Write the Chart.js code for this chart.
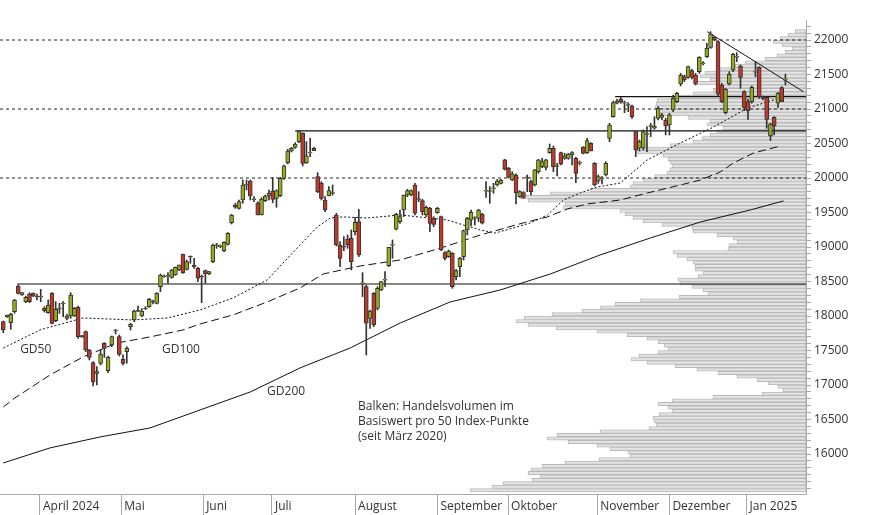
<!DOCTYPE html>
<html><head><meta charset="utf-8">
<script src="https://cdn.jsdelivr.net/npm/chart.js@4/dist/chart.umd.min.js"></script>
<style>html,body{margin:0;padding:0;background:#fff}canvas{display:block}</style>
</head><body>
<canvas id="c" width="874" height="515"></canvas>
<script>
const openV=[17918,18015,17904,18063,18435,18305,18208,18319,18329,18285,
18280,18112,18049,18329,17933,18107,18180,17967,18001,18001,
18126,17716,17774,17508,17324,17170,17315,17605,17209,17580,
17789,17701,17373,17484,17846,17943,18078,18001,18112,18136,
18213,18184,18426,18571,18580,18561,18595,18667,18894,18677,
18865,18740,18691,18575,18658,18609,
18788,19025,19010,18948,19039,19353,19609,19561,19682,19899,
19957,19691,19634,19464,19672,19740,19812,19706,19745,19996,
20223,20392,20445,20527,20648,20223,20368,20430,20020,19923,
19682,19740,19778,19464,19030,19010,19117,19126,19223,19368,
18474,18426,17967,18329,18112,18377,18523,18730,19030,19257,
19368,19537,
19754,19754,19899,19696,19672,19464,19561,19416,19498,19440,
18919,18861,18909,18571,18716,18861,19247,19392,19426,19416,
19474,19817,19812,19851,19899,19923,20262,20141,19972,20044,
19730,19788,20010,19947,19899,20092,20165,20155,20368,20430,
20175,20368,20285,20285,20334,20285,20223,20445,20368,20503,
20213,19957,19996,20044,20575,
20889,21083,21145,21092,21058,21044,20672,20431,20431,20638,
20754,20721,20865,20880,20841,20769,20986,21107,21363,21469,
21459,21556,21493,21541,21662,21759,21894,22039,21976,21348,
20947,21363,21566,21759,21624,21251,21107,21107,21541,21604,
21179,21169,20609,20880,21083,21309,21420];
const highV=[17928,18015,18039,18242,18450,18345,18290,18339,18335,18319,
18387,18136,18233,18339,18208,18184,18208,18025,18339,18126,
18146,17720,17783,17518,17339,17267,17508,17614,17421,17711,
17807,17725,17436,17556,17894,18088,18146,18107,18136,18257,
18233,18339,18609,18595,18629,18677,18711,18740,18899,18812,
18870,18836,18706,18595,18667,18648,
19044,19054,19030,19078,19209,19475,19634,19682,19972,19972,
19972,19730,19658,19716,19754,19827,20010,19827,20010,20189,
20416,20445,20513,20686,20657,20527,20575,20445,20078,19947,
19730,19875,19899,19489,19078,19151,19175,19247,19431,19547,
18629,18450,18088,18339,18426,18498,18643,18996,19102,19489,
19537,19754,
19837,19827,19923,19802,19691,19595,19576,19440,19576,19450,
18933,18957,18919,18677,18851,19247,19431,19537,19440,19547,
19489,19947,19875,19923,19981,19981,20271,20155,20092,20059,
19817,19803,20044,19972,20126,20271,20285,20271,20493,20464,
20213,20377,20358,20358,20382,20300,20247,20455,20575,20513,
20223,20044,20020,20237,20793,
21116,21140,21169,21116,21092,21058,20672,20551,20696,20744,
20793,20889,21034,20938,20865,20938,21203,21242,21517,21493,
21624,21575,21517,21759,21686,21952,22121,22049,21991,21372,
21300,21541,21807,21817,21638,21266,21140,21334,21686,21614,
21189,21179,20793,20890,21237,21324,21507];
const lowV=[17759,17981,17808,18039,18319,18300,18194,18194,18280,18233,
18208,18058,18039,17885,17918,18039,17991,17943,17967,17991,
17677,17692,17484,17363,16986,17001,17291,17401,17180,17556,
17740,17421,17291,17315,17798,17918,18063,17991,18097,18126,
18175,18175,18353,18561,18474,18547,18590,18658,18619,18667,
18764,18691,18498,18194,18474,18600,
18774,18981,18990,18933,19030,19334,19561,19547,19634,19827,
19682,19658,19464,19464,19658,19682,19643,19576,19730,19981,
20204,20377,20430,20513,20175,20213,20310,20397,19788,19682,
19513,19740,19754,19015,18716,18948,18981,18668,19175,18861,
18281,17436,17822,17846,18088,18368,18426,18716,18837,19247,
19343,19441,
19730,19740,19464,19658,19464,19440,19223,19295,19489,18948,
18812,18851,18402,18523,18571,18812,19175,19305,19320,19368,
19334,19720,19634,19778,19885,19914,20117,20001,19962,19624,
19720,19706,19802,19754,19885,20068,20150,20117,20358,20092,
20030,20189,20271,20271,20189,19933,20189,20348,20358,20392,
19885,19923,19914,20030,20527,
20880,21073,21083,20947,20962,20865,20310,20392,20406,20383,
20600,20706,20841,20841,20624,20624,20962,21092,21334,21397,
21445,21435,21348,21517,21638,21749,21879,21991,21179,21092,
20928,21348,21541,21686,21300,20976,20851,21083,21469,21155,
21131,20720,20541,20624,21024,21107,21348];
const closeV=[17798,17991,18025,18233,18329,18339,18271,18208,18290,18281,
18285,18078,18160,17894,18097,18112,18184,18001,18305,18112,
17701,17692,17508,17401,17049,17194,17450,17532,17402,17701,
17793,17445,17315,17532,17880,18073,18073,18073,18107,18242,
18208,18329,18595,18575,18585,18667,18706,18740,18629,18788,
18860,18716,18547,18571,18609,18643,
19030,19030,19015,19068,19199,19464,19576,19658,19899,19904,
19740,19696,19464,19696,19740,19778,19691,19817,19996,20175,
20392,20430,20493,20672,20213,20320,20368,20397,19803,19706,
19537,19817,19788,19030,18836,19001,19030,18788,19358,18885,
18474,17895,18073,17870,18402,18498,18532,18996,19039,19474,
19440,19754,
19817,19817,19489,19696,19513,19576,19343,19329,19561,18957,
18836,18943,18426,18658,18836,19238,19416,19503,19426,19537,
19344,19817,19812,19851,19957,19972,20126,20010,20059,19788,
19803,19720,20005,19802,20117,20262,20237,20262,20430,20165,
20175,20199,20320,20348,20368,20068,20223,20358,20541,20392,
19899,20020,19996,20213,20769,
21092,21116,21107,21092,21058,20889,20407,20527,20672,20638,
20754,20754,21010,20913,20754,20914,21155,21227,21493,21421,
21614,21459,21372,21749,21662,21879,22087,22000,21218,21107,
21285,21503,21793,21759,21459,21024,20976,21314,21541,21179,
21155,20851,20783,20754,21227,21107,21430];

const gd50Idx=[0,9.8,21.3,34.7,43.8,52.6,61.4,70.5,79.3,83.9,87.4,90.8,97.2,106.1,118.6,122.9,127.5,131.5,136.3,140.8,145.4,149.7,154.2,158.7,164.9,172.1,180.9,189.8,198.9,208.5];
const gd50Val=[17537,17798,17972,17943,17972,18088,18262,18523,19030,19291,19421,19436,19421,19465,19392,19320,19247,19204,19276,19349,19465,19682,19783,19870,19928,20262,20508,20740,21015,21175];
const gd100Idx=[0,3.1,12.5,21.3,30.4,39.2,48.0,52.6,61.4,70.5,79.3,85.5,95.4,106.1,118.6,127.5,138.9,145.4,150.7,156.1,164.9,172.1,180.9,186.3,191.6,195.1,200.5,207.7];
const gd100Val=[16682,16813,17146,17407,17610,17697,17798,17885,18016,18204,18407,18610,18726,18813,19015,19175,19349,19436,19552,19624,19682,19783,19899,19972,20088,20218,20363,20464];
const gd200Idx=[0,12.5,25.9,39.2,52.6,66.0,79.3,92.7,106.1,119.4,132.8,146.2,159.5,172.9,186.3,199.6,208.5];
const gd200Val=[15871,16089,16248,16378,16639,16900,17248,17537,17900,18204,18378,18610,18885,19131,19363,19537,19668];

const profileTop=22125, profileStep=50;
const profileVol=[11,18,26,33,24,14,21,29,41,61,71,89,101,106,96,113,86,93,113,131,149,150,151,144,149,118,96,99,83,89,96,104,113,136,163,169,143,138,136,134,136,139,151,163,173,176,216,256,286,278,241,243,186,181,173,163,144,114,113,89,73,69,77,78,133,129,119,113,111,
111,103,108,128,126,114,103,98,127,166,191,206,224,254,282,290,278,250,209,179,159,148,142,138,148,167,175,159,131,109,88,69,49,38,28,23,44,93,134,148,138,134,147,153,152,150,157,206,249,259,238,209,196,178,176,207,241,264,275,278,266,274,303,314,336];

const monthStarts=[9.8,31.5,53.4,71.8,94.0,116.0,134.9,158.7,178.0,198.6];
const monthLabels=['April 2024','Mai','Juni','Juli','August','September','Oktober','November','Dezember','Jan 2025'];
const yLabelStep=500, yLabelMin=16000;

const solidLevels=[18464,20682,21179];
const solidStarts=[3.7,78,163.5];
const dashedLevels=[20000,21000,22000];
const trendIdx=[188.1,213.8], trendVal=[22121,21251];
const xMin=-0.88, xMax=214.5;

const N=openV.length;
const wicks=[],bodies=[],bodyCol=[];
for(let i=0;i<N;i++){
  wicks.push({x:i,y:[lowV[i],highV[i]]});
  let lo=Math.min(openV[i],closeV[i]),hi=Math.max(openV[i],closeV[i]);
  if(hi-lo<12){const m=(hi+lo)/2;lo=m-6;hi=m+6;}
  bodies.push({x:i,y:[lo,hi]});
  bodyCol.push(closeV[i]>=openV[i]?'#95ab1f':'#c0392b');
}
const prof=profileVol.map((v,k)=>({y:profileTop-k*profileStep,x:[0,v]}));
const line=(xs,ys)=>xs.map((x,k)=>({x:x,y:ys[k]}));

const datasets=[
 {type:'bar',data:prof,indexAxis:'y',xAxisID:'xv',yAxisID:'y',barThickness:3.4,grouped:false,
  backgroundColor:'#e3e3e3',borderColor:'#b9b9b9',borderWidth:1,borderSkipped:false,order:20},
 {type:'line',data:line(gd200Idx,gd200Val),xAxisID:'x',yAxisID:'y',borderColor:'#111',borderWidth:1,pointRadius:0,order:15},
 {type:'line',data:line(gd100Idx,gd100Val),xAxisID:'x',yAxisID:'y',borderColor:'#111',borderWidth:1,borderDash:[8,4],pointRadius:0,order:15},
 {type:'line',data:line(gd50Idx,gd50Val),xAxisID:'x',yAxisID:'y',borderColor:'#111',borderWidth:1,borderDash:[2,2],pointRadius:0,order:15},
];
solidLevels.forEach((l,k)=>datasets.push({type:'line',data:[{x:solidStarts[k],y:l},{x:xMax,y:l}],xAxisID:'x',yAxisID:'y',borderColor:'#111',borderWidth:1.2,pointRadius:0,order:14}));
dashedLevels.forEach(l=>datasets.push({type:'line',data:[{x:xMin,y:l},{x:xMax,y:l}],xAxisID:'x',yAxisID:'y',borderColor:'#222',borderWidth:1,borderDash:[3,3],pointRadius:0,order:14}));
datasets.push({type:'line',data:line(trendIdx,trendVal),xAxisID:'x',yAxisID:'y',borderColor:'#111',borderWidth:1,pointRadius:0,order:14});
datasets.push({type:'bar',data:wicks,xAxisID:'x',yAxisID:'y',barThickness:1,grouped:false,backgroundColor:'#333',borderWidth:0,order:2});
datasets.push({type:'bar',data:bodies,xAxisID:'x',yAxisID:'y',barThickness:4,grouped:false,backgroundColor:bodyCol,borderColor:'#333',borderWidth:1,borderSkipped:false,order:1});

const texts=[
 {t:'GD50',x:4.5,y:17510},{t:'GD100',x:42.4,y:17510},{t:'GD200',x:70.5,y:16900},
 {t:'Balken: Handelsvolumen im',x:94.8,y:16683},{t:'Basiswert pro 50 Index-Punkte',x:94.8,y:16466},{t:'(seit März 2020)',x:94.8,y:16248}];
const textPlugin={id:'txt',afterDatasetsDraw(ch){
  const c=ch.ctx,xs=ch.scales.x,ys=ch.scales.y;
  c.save();c.font='12px "Open Sans"';c.fillStyle='#333';c.textBaseline='middle';c.textAlign='left';
  texts.forEach(o=>c.fillText(o.t,xs.getPixelForValue(o.x),ys.getPixelForValue(o.y)));
  c.restore();}};

new Chart(document.getElementById('c'),{
 type:'bar',data:{datasets},plugins:[textPlugin],
 options:{responsive:false,animation:false,devicePixelRatio:1,
  layout:{padding:{top:20,left:0,right:0,bottom:0}},
  plugins:{legend:{display:false},tooltip:{enabled:false}},
  scales:{
   x:{type:'linear',offset:false,min:xMin,max:xMax,position:'bottom',
     afterBuildTicks:s=>{s.ticks=monthStarts.map(v=>({value:v}));},
     afterFit:s=>{s.height=21;s.paddingLeft=0;s.paddingRight=0;},
     grid:{offset:false,drawOnChartArea:false,drawTicks:true,tickLength:21,color:'#aaa'},
     border:{color:'#aaa'},
     ticks:{autoSkip:false,maxRotation:0,align:'start',labelOffset:3,padding:-16,color:'#333',font:{family:'Open Sans',size:12},
       callback:(v,i)=>monthLabels[i]}},
   xv:{type:'linear',offset:false,display:false,min:0,max:806,reverse:true},
   y:{type:'linear',offset:false,position:'right',min:15421,max:22290,
     afterFit:s=>{s.width=68;s.paddingTop=0;s.paddingBottom=0;},
     afterBuildTicks:s=>{const t=[];for(let v=15500;v<=22200;v+=100)t.push({value:v});s.ticks=t;},
     grid:{offset:false,drawOnChartArea:false,tickLength:5,color:'#aaa'},border:{color:'#aaa'},
     ticks:{autoSkip:false,padding:3,color:'#333',font:{family:'Open Sans',size:12},
       callback:v=>(v%yLabelStep===0&&v>=yLabelMin)?String(v):''}}
  }}});
</script>
</body></html>
